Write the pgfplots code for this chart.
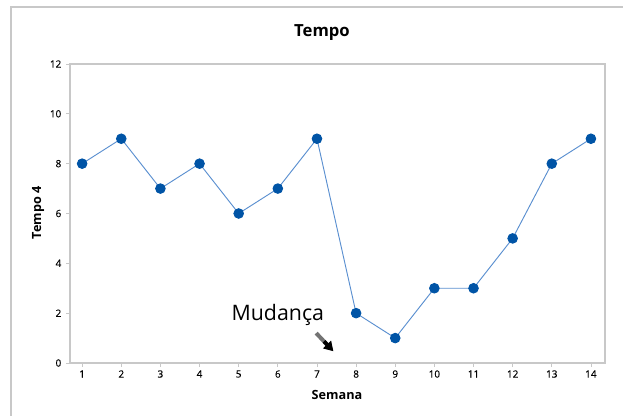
\documentclass[border=0pt]{standalone}
\usepackage{pgfplots}
\pgfplotsset{compat=1.18}
\usetikzlibrary{arrows.meta}
\usepackage{fontspec}
\setmainfont{Open Sans}
\newfontfamily\semib[FakeBold=0.35]{Open Sans}
\definecolor{axgray}{RGB}{200,200,200}
\definecolor{mblue}{RGB}{0,84,166}
\definecolor{lblue}{RGB}{90,143,208}
\begin{document}
\begin{tikzpicture}
\path[use as bounding box] (0,0) rectangle (467.25pt,312pt);
\draw[axgray, line width=0.8pt] (8.25pt,0) -- (8.25pt,306.75pt) -- (467.25pt,306.75pt);
\begin{axis}[
  at={(52.5pt,39.75pt)}, anchor=south west,
  scale only axis, width=401.25pt, height=224.25pt,
  xmin=0.69, xmax=14.36, ymin=0, ymax=12,
  xtick={1,...,14}, ytick={0,2,...,12},
  axis line style={axgray, line width=0.8pt},
  tick style={axgray, line width=0.6pt},
  tick align=outside, major tick length=3pt,
  xtick pos=bottom, ytick pos=left,
  clip=false,
  /pgf/number format/assume math mode=true,
  ticklabel style={font=\semib\fontsize{7.5}{9}\selectfont, text=black},
  xticklabel style={yshift=1pt},
]
\addplot[lblue, line width=0.7pt, mark=*, mark size=3.6pt, mark options={fill=mblue, draw=mblue}]
  coordinates {(1,8)(2,9)(3,7)(4,8)(5,6)(6,7)(7,9)(8,2)(9,1)(10,3)(11,3)(12,5)(13,8)(14,9)};
\node[font=\fontsize{16}{18}\selectfont] at (axis cs:6.0,1.93) {Mudança};
\draw[black!55, line width=3pt] (axis cs:6.98,1.2) -- (axis cs:7.22,0.8);
\draw[-{Triangle[length=7pt,width=8pt]}, line width=3pt, black] (axis cs:7.18,0.87) -- (axis cs:7.42,0.47);
\end{axis}
\node[font=\fontsize{12.5}{14}\selectfont\bfseries] at (241.5pt,287.25pt) {Tempo};
\node[font=\fontsize{9.5}{11}\selectfont\bfseries, rotate=90] at (28.5pt,152.25pt) {Tempo 4};
\node[font=\fontsize{9.5}{11}\selectfont\bfseries] at (252.75pt,15.75pt) {Semana};
\end{tikzpicture}
\end{document}
